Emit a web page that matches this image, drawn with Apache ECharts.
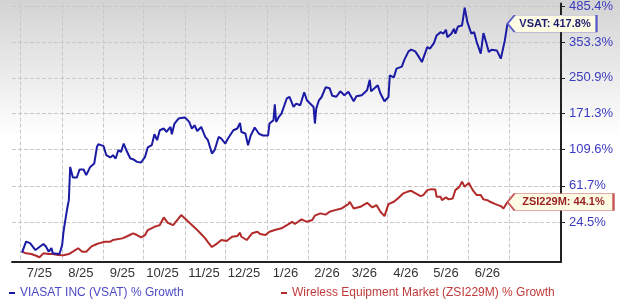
<!DOCTYPE html>
<html>
<head>
<meta charset="utf-8">
<script src="https://cdn.jsdelivr.net/npm/echarts@6/dist/echarts.min.js"></script>
<style>
  html, body { margin: 0; padding: 0; background: #fff; }
  #chart { width: 620px; height: 302px; }
</style>
</head>
<body>
<div id="chart"></div>
<script>
// x values are days counted from 2025-07-01
const monthLabels = ['7/25', '8/25', '9/25', '10/25', '11/25', '12/25', '1/26', '2/26', '3/26', '4/26', '5/26', '6/26']
const monthStarts = [0, 31, 62, 92, 123, 153, 184, 215, 243, 274, 304, 335, 365]
const yTicks = [24.5, 61.7, 109.6, 171.3, 250.9, 353.3, 485.4] // % growth

const vsatDays = [
  1, 4, 7, 11, 13, 17, 19, 21, 23, 24,
  29, 31, 32, 33, 35, 36, 37, 39, 42, 44,
  47, 49, 52, 55, 57, 58, 62, 64, 67, 69,
  71, 73, 75, 77, 79, 82, 84, 87, 90, 93,
  95, 98, 100, 102, 104, 107, 109, 112, 113, 115,
  118, 121, 123, 126, 128, 130, 132, 135, 138, 140,
  143, 145, 148, 150, 153, 155, 159, 162, 164, 165,
  168, 170, 172, 175, 178, 181, 185, 186, 189, 190,
  191, 193, 195, 199, 201, 204, 206, 209, 212, 214,
  216, 219, 220, 221, 223, 225, 228, 231, 233, 236,
  239, 242, 245, 249, 251, 255, 259, 261, 262, 265,
  267, 269, 272, 275, 276, 279, 281, 285, 287, 290,
  292, 295, 297, 300, 304, 306, 309, 311, 314, 316,
  318, 319, 322, 324, 325, 327, 330, 332, 334, 337,
  339, 341, 344, 346, 348, 350, 352, 356, 359, 362,
  364
]
const vsatPct = [
  0.2, 8.4, 7.3, 2.1, 3.6, 6.6, 4.5, 0.9, 3.6, -0.3,
  -0.8, 5.8, 16.2, 23.9, 39.2, 46.0, 85.3, 71.8, 71.8, 81.9,
  81.9, 74.7, 85.3, 89.9, 113.9, 118.1, 115.0, 101.5, 98.3, 101.5,
  96.8, 108.9, 106.3, 119.1, 108.9, 96.8, 95.9, 92.1, 91.3, 99.1,
  113.0, 116.5, 134.2, 124.4, 141.0, 144.0, 138.1, 146.8, 134.2, 152.9,
  162.1, 163.6, 164.0, 155.8, 144.0, 149.8, 139.8, 146.8, 129.7, 124.4,
  104.0, 108.9, 129.7, 127.1, 119.1, 127.1, 141.0, 144.0, 154.0, 138.1,
  135.4, 116.5, 132.1, 145.7, 135.4, 132.1, 132.1, 152.9, 159.0, 190.3,
  155.8, 165.1, 171.6, 203.1, 206.4, 184.8, 191.8, 188.3, 216.4, 198.8,
  193.1, 184.8, 152.9, 181.5, 198.8, 205.9, 227.9, 225.6, 208.5, 206.4,
  218.6, 209.7, 217.5, 196.7, 207.4, 209.7, 221.0, 246.0, 218.6, 227.2,
  232.6, 213.5, 196.7, 205.9, 257.3, 252.2, 274.9, 280.3, 300.7, 324.3,
  329.5, 324.3, 312.3, 293.0, 337.6, 332.6, 350.3, 375.8, 387.1, 381.6,
  395.6, 370.0, 381.6, 399.2, 381.6, 407.5, 411.1, 480.2, 423.3, 381.6,
  387.1, 353.5, 317.4, 383.7, 353.5, 322.2, 329.5, 327.3, 302.7, 359.1,
  417.8
]

const zsiDays = [
  1, 4, 8, 12, 14, 17, 21, 24, 28, 32,
  36, 39, 43, 46, 49, 53, 57, 59, 63, 67,
  69, 76, 80, 84, 87, 90, 93, 95, 100, 104,
  107, 110, 114, 117, 120, 124, 128, 132, 134, 138,
  140, 143, 147, 150, 154, 158, 162, 164, 165, 169,
  173, 177, 179, 183, 186, 190, 195, 199, 203, 205,
  210, 214, 218, 220, 224, 228, 231, 235, 240, 245,
  246, 249, 254, 259, 263, 266, 269, 272, 275, 279,
  282, 286, 289, 292, 295, 299, 301, 304, 307, 310,
  311, 314, 315, 318, 320, 323, 325, 328, 330, 332,
  335, 336, 338, 341, 344, 346, 349, 351, 355, 359,
  361, 364
]
const zsiPct = [
  0.9, -0.3, -0.8, -2.2, -3.1, -0.3, -0.8, -0.8, -1.5, -1.7,
  -0.8, 0.9, 3.4, 0.9, 0.9, 4.8, 6.6, 7.3, 8.4, 8.4,
  9.7, 11.0, 12.9, 15.1, 13.7, 11.8, 13.7, 17.8, 20.6, 22.1,
  29.0, 24.1, 22.1, 26.6, 31.2, 26.6, 22.1, 17.8, 15.6, 11.0,
  8.1, 4.3, 7.1, 9.7, 8.9, 12.3, 12.9, 15.6, 12.3, 9.7,
  15.1, 16.4, 14.5, 13.7, 16.4, 17.8, 19.3, 22.1, 25.0, 23.0,
  27.2, 25.0, 26.6, 30.7, 32.8, 31.6, 34.3, 35.9, 37.6, 41.9,
  44.3, 37.6, 39.2, 43.2, 38.6, 40.9, 34.3, 30.2, 41.9, 44.3,
  47.8, 53.2, 55.0, 56.1, 53.5, 50.3, 51.4, 56.9, 58.0, 57.6,
  49.5, 49.5, 46.0, 48.9, 46.8, 47.8, 56.9, 60.6, 66.5, 60.6,
  65.3, 66.5, 56.9, 51.4, 51.4, 46.8, 46.0, 44.3, 41.9, 39.9,
  37.6, 44.1
]

// the chart plots growth on a log scale of (1 + growth)
const toLog = p => Math.log(1 + p / 100)
const fromLog = v => ((Math.exp(v) - 1) * 100).toFixed(1) + '%'

let vsatData = vsatDays.map((d, i) => [d, toLog(vsatPct[i])])
let zsiData = zsiDays.map((d, i) => [d, toLog(zsiPct[i])])
let vsatLast = vsatData[vsatData.length - 1]
let zsiLast = zsiData[zsiData.length - 1]

let chart = echarts.init(document.getElementById('chart'))

let option = {
  animation: false,
  textStyle: { fontFamily: 'Arial, "Liberation Sans", sans-serif' },
  graphic: [{
    type: 'rect',
    z: -100,
    silent: true,
    shape: { x: 0, y: 0, width: 620, height: 302 },
    style: {
      fill: new echarts.graphic.LinearGradient(0, 0, 0, 1, [
        { offset: 0, color: '#d3d3d3' },
        { offset: 0.45, color: '#ffffff' },
        { offset: 1, color: '#ffffff' }
      ])
    }
  }],
  grid: { left: 12, right: 59, top: 3, bottom: 40 },
  legend: [
    {
      data: ['VIASAT INC (VSAT) % Growth'],
      left: 4, top: 282,
      icon: 'rect', itemWidth: 6, itemHeight: 2, itemGap: 0,
      textStyle: { color: '#4a4ac4', fontSize: 12 }
    },
    {
      data: ['Wireless Equipment Market (ZSI229M) % Growth'],
      left: 276, top: 282,
      icon: 'rect', itemWidth: 6, itemHeight: 2,
      textStyle: { color: '#c03a3a', fontSize: 12 }
    }
  ],
  xAxis: {
    type: 'value',
    min: -6.5,
    max: 404,
    axisLine: { onZero: false, lineStyle: { color: '#222', width: 2 } },
    axisTick: { show: false, customValues: monthStarts },
    splitLine: { show: true, lineStyle: { color: '#c8c8c8', type: 'dashed' } },
    axisLabel: {
      customValues: monthStarts.slice(0, 12).map(d => d + 14),
      formatter: v => monthLabels[monthStarts.indexOf(v - 14)],
      color: '#333',
      fontSize: 13,
      margin: 5
    }
  },
  yAxis: {
    type: 'value',
    position: 'right',
    min: -0.0651,
    max: 1.7888,
    axisLine: { show: true, onZero: false, lineStyle: { color: '#222', width: 2 } },
    axisTick: { show: true, length: 4, customValues: yTicks.map(toLog), lineStyle: { color: '#222' } },
    splitLine: { show: true, lineStyle: { color: '#c8c8c8', type: 'dashed' } },
    axisLabel: {
      customValues: yTicks.map(toLog),
      formatter: v => fromLog(v),
      color: '#3b3bc0',
      fontSize: 13,
      margin: 8
    }
  },
  series: [
    {
      name: 'VIASAT INC (VSAT) % Growth',
      type: 'line',
      data: vsatData,
      showSymbol: false,
      lineStyle: { color: '#1a1aa4', width: 2 },
      itemStyle: { color: '#1a1aa4' },
      z: 3,
      markPoint: {
        symbol: 'path://M0,8L7,0L88,0L88,16L7,16Z',
        symbolSize: [89, 17],
        symbolOffset: ['50%', 0],
        symbolKeepAspect: false,
        itemStyle: { color: '#fdfbe4', borderColor: '#5a5ac8', borderWidth: 1 },
        label: {
          show: true,
          formatter: 'VSAT: ' + vsatPct[vsatPct.length - 1].toFixed(1) + '%',
          color: '#1e1e70',
          fontWeight: 'bold',
          fontSize: 11,
          offset: [3, 0]
        },
        data: [{ coord: vsatLast }]
      }
    },
    {
      name: 'Wireless Equipment Market (ZSI229M) % Growth',
      type: 'line',
      data: zsiData,
      showSymbol: false,
      lineStyle: { color: '#b22a2a', width: 2 },
      itemStyle: { color: '#b22a2a' },
      z: 2,
      markPoint: {
        symbol: 'path://M0,8L7,0L105,0L105,16L7,16Z',
        symbolSize: [106, 17],
        symbolOffset: ['50%', 0],
        symbolKeepAspect: false,
        itemStyle: { color: '#fdfbe4', borderColor: '#c85a5a', borderWidth: 1 },
        label: {
          show: true,
          formatter: 'ZSI229M: ' + zsiPct[zsiPct.length - 1].toFixed(1) + '%',
          color: '#9a1e1e',
          fontWeight: 'bold',
          fontSize: 11,
          offset: [3, 0]
        },
        data: [{ coord: zsiLast }]
      }
    }
  ]
}

chart.setOption(option)
</script>
</body>
</html>
